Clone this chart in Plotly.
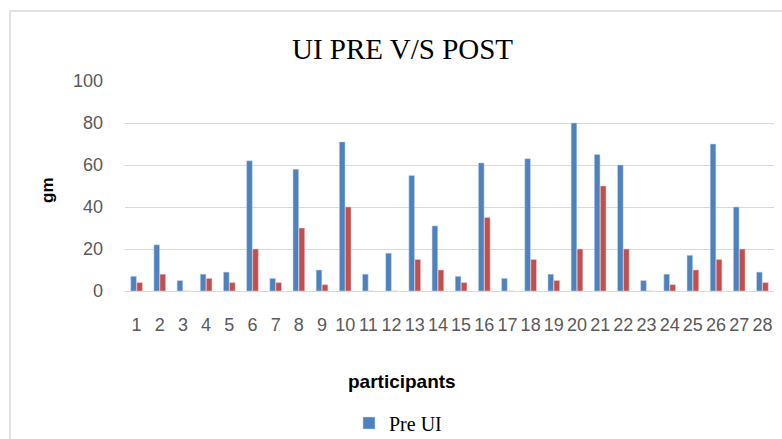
import plotly.graph_objects as go

participants = [str(i) for i in range(1, 29)]
pre_ui = [7, 22, 5, 8, 9, 62, 6, 58, 10, 71, 8, 18, 55, 31, 7, 61, 6, 63, 8, 80, 65, 60, 5, 8, 17, 70, 40, 9]
post_ui = [4, 8, 0, 6, 4, 20, 4, 30, 3, 40, 0, 0, 15, 10, 4, 35, 0, 15, 5, 20, 50, 20, 0, 3, 10, 15, 20, 4]
y_ticks = [0, 20, 40, 60, 80, 100]

W, H = 782, 439
# plot area in page pixels
PX0, PX1, PY0, PY1 = 125, 774, 81, 291
L, R, T, B = PX0, W - PX1, PY0, H - PY1
pw, ph = PX1 - PX0, PY1 - PY0

def px(x):
    return (x - PX0) / pw

def py(y):
    return (PY1 - y) / ph

fig = go.Figure()
fig.add_trace(go.Bar(x=participants, y=pre_ui, name="Pre UI",
                     marker=dict(color="#4F81BD", line=dict(color="rgba(200,215,240,0.9)", width=0.6))))
fig.add_trace(go.Bar(x=participants, y=post_ui, name="Post UI", showlegend=False,
                     marker=dict(color="#C0504D", line=dict(color="rgba(240,200,200,0.9)", width=0.6))))

fig.update_layout(
    width=W, height=H,
    margin=dict(l=L, r=R, t=T, b=B, autoexpand=False),
    paper_bgcolor="white", plot_bgcolor="white",
    barmode="group", bargap=0.48, bargroupgap=0.06,
    showlegend=True,
    legend=dict(x=px(398), y=py(423), xanchor="center", yanchor="middle",
                orientation="h", font=dict(family="Liberation Serif", size=20, color="#000000"),
                bgcolor="rgba(0,0,0,0)"),
    xaxis=dict(type="category", tickfont=dict(family="Liberation Sans", size=18, color="#595959"),
               showgrid=False, showline=False, ticks="", ticklen=0, ticklabelstandoff=21),
    yaxis=dict(range=[0, 100], tickvals=y_ticks, tickfont=dict(family="Liberation Sans", size=18, color="#595959"),
               showgrid=True, gridcolor="#D9D9D9", gridwidth=1, zeroline=True, zerolinecolor="#D9D9D9",
               zerolinewidth=1, showline=False, ticks="", ticklabelstandoff=21),
    font=dict(family="Liberation Sans"),
    annotations=[
        dict(text="UI PRE V/S POST", x=px(402), y=py(49), xref="paper", yref="paper",
             showarrow=False, xanchor="center", yanchor="middle",
             font=dict(family="Liberation Serif", size=29, color="#000000")),
        dict(text="<b>participants</b>", x=px(402), y=py(381), xref="paper", yref="paper",
             showarrow=False, xanchor="center", yanchor="middle",
             font=dict(family="Liberation Sans", size=19, color="#000000")),
        dict(text="<b>gm</b>", x=px(47), y=py(190), xref="paper", yref="paper", textangle=-90,
             showarrow=False, xanchor="center", yanchor="middle",
             font=dict(family="Liberation Sans", size=17, color="#000000")),
    ],
    shapes=[
        dict(type="rect", xref="paper", yref="paper", x0=px(10), x1=px(800), y0=py(11), y1=py(460),
             line=dict(color="#D9D9D9", width=1.5), fillcolor="rgba(0,0,0,0)", layer="below"),
    ],
)

fig.write_html("out.html", config={"displayModeBar": False},
               post_script="document.body.style.margin='0';document.body.style.overflow='hidden';")
